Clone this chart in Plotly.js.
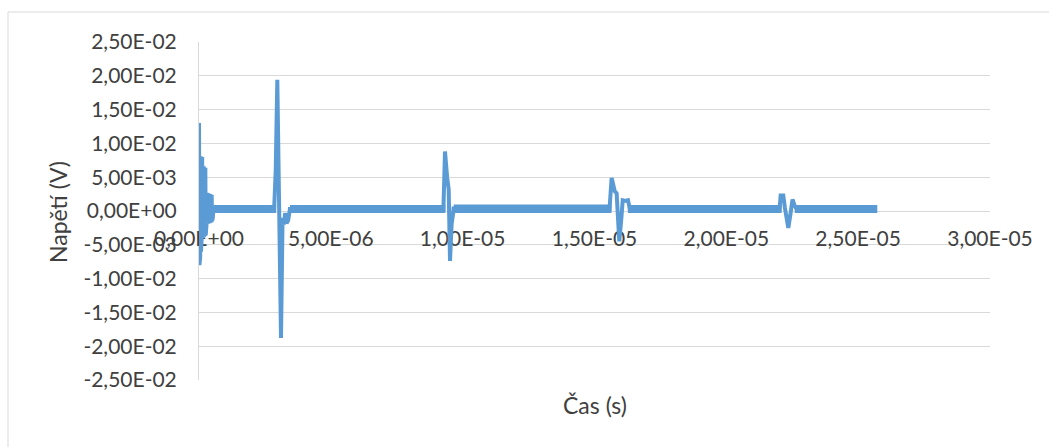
<!DOCTYPE html>
<html>
<head>
<meta charset="utf-8">
<script src="https://cdn.plot.ly/plotly-3.0.1.min.js"></script>
<style>
  html, body { margin: 0; padding: 0; background: #ffffff; }
  #chart { width: 1049px; height: 447px; }
</style>
</head>
<body>
<div id="chart"></div>
<script>
// ---- Data (time in microseconds, voltage in millivolts) ----
// initial ringing at t = 0
const ringStartT = [0, 0.015, 0.03, 0.045, 0.06, 0.075, 0.09, 0.105, 0.12, 0.135, 0.15, 0.165, 0.18, 0.195, 0.21, 0.225, 0.24, 0.255, 0.27, 0.285, 0.30, 0.315, 0.33, 0.345, 0.36, 0.375, 0.39, 0.405, 0.42, 0.435, 0.45, 0.465, 0.48, 0.495, 0.51, 0.525, 0.54];
const ringStartV = [13.0, -8.0, 8.2, -6.8, 8.1, -6.0, 7.9, -3.8, 8.0, -3.7, 7.8, -3.6, 6.6, -3.7, 6.5, -3.5, 6.4, -3.6, 6.3, -2.0, 2.7, -1.8, 2.6, -1.9, 2.6, -1.7, 2.5, -1.8, 2.5, -1.6, 2.4, -1.7, 2.4, -1.5, 2.3, -1.0, 0.3];
// reflection 1 (largest)
const pulse1T = [2.85, 2.91, 2.97, 3.04, 3.11, 3.17, 3.22, 3.27, 3.32, 3.38, 3.45];
const pulse1V = [0.3, 6.0, 19.4, 0.5, -18.8, -1.0, -2.0, -0.3, -1.8, -1.4, 0.3];
// reflection 2
const pulse2T = [9.27, 9.33, 9.41, 9.47, 9.52, 9.58, 9.66];
const pulse2V = [0.3, 8.8, 5.0, 3.2, -7.4, -2.0, 0.3];
// reflection 3
const pulse3T = [15.57, 15.65, 15.70, 15.77, 15.84, 15.94, 16.02, 16.07, 16.17, 16.27, 16.34];
const pulse3V = [0.3, 4.9, 4.2, 2.9, 2.6, -4.5, -1.0, 1.6, 1.5, 1.6, 0.3];
// reflection 4
const pulse4T = [22.02, 22.06, 22.16, 22.22, 22.35, 22.43, 22.51, 22.59, 22.67];
const pulse4V = [0.3, 2.3, 2.3, 0.5, -2.5, -0.5, 1.7, 0.8, 0.3];
// last sample of the record
const endT = [25.65];
const endV = [0.3];

// baseline noise envelope between the pulses (start/end in us, high/low in mV)
const noiseStartUs = [0.54, 3.45, 9.66, 16.34, 22.67];
const noiseEndUs   = [2.85, 9.27, 15.57, 22.02, 25.65];
const noiseHighMv  = [0.6, 0.6, 0.65, 0.6, 0.6];
const noiseLowMv   = [0.0, 0.0, 0.0, 0.0, 0.0];

// axis ticks
const xTickVals = [0, 5e-6, 1e-5, 1.5e-5, 2e-5, 2.5e-5, 3e-5];
const xTickText = ["0,00E+00", "5,00E-06", "1,00E-05", "1,50E-05", "2,00E-05", "2,50E-05", "3,00E-05"];
const yTickVals = [0.025, 0.02, 0.015, 0.01, 0.005, 0, -0.005, -0.01, -0.015, -0.02, -0.025];
const yTickText = ["2,50E-02", "2,00E-02", "1,50E-02", "1,00E-02", "5,00E-03", "0,00E+00", "-5,00E-03", "-1,00E-02", "-1,50E-02", "-2,00E-02", "-2,50E-02"];
const xTitle = "Čas (s)";
const yTitle = "Napětí (V)";

// ---- Build series (unit conversion only) ----
const segT = [ringStartT, pulse1T, pulse2T, pulse3T, pulse4T, endT];
const segV = [ringStartV, pulse1V, pulse2V, pulse3V, pulse4V, endV];
const x = [].concat(...segT).map(t => t * 1e-6);
const y = [].concat(...segV).map(v => v * 1e-3);

const bandX = [], bandY = [];
noiseStartUs.forEach((s, i) => {
  const e = noiseEndUs[i], hi = noiseHighMv[i], lo = noiseLowMv[i];
  bandX.push(s * 1e-6, e * 1e-6, e * 1e-6, s * 1e-6, s * 1e-6, null);
  bandY.push(hi * 1e-3, hi * 1e-3, lo * 1e-3, lo * 1e-3, hi * 1e-3, null);
});

const FONT = "Lato, 'Open Sans', sans-serif";
const TXT = "#404040";
const GRID = "#d9d9d9";
const BLUE = "#5B9BD5";

const plotL = 199, plotR = 990, plotT = 42, plotB = 380;
const W = 1049, H = 447;
const pw = plotR - plotL, ph = plotB - plotT;
const px = v => (v - plotL) / pw;
const py = v => (plotB - v) / ph;

const bandTrace = {
  x: bandX, y: bandY, type: "scatter", mode: "lines",
  fill: "toself", fillcolor: BLUE,
  line: { color: BLUE, width: 4 },
  hoverinfo: "skip"
};
const trace = {
  x: x, y: y, type: "scatter", mode: "lines",
  line: { color: BLUE, width: 4 },
  hoverinfo: "skip"
};

const layout = {
  width: W, height: H,
  margin: { l: plotL, r: W - plotR, t: plotT, b: H - plotB, pad: 0 },
  paper_bgcolor: "#ffffff", plot_bgcolor: "#ffffff",
  showlegend: false,
  font: { family: FONT, color: TXT, size: 21 },
  xaxis: {
    range: [0, 3e-5],
    anchor: "free", position: 0.5,
    layer: "below traces",
    tickmode: "array", tickvals: xTickVals, ticktext: xTickText,
    ticks: "outside", ticklen: 9, tickcolor: "rgba(0,0,0,0)",
    tickfont: { family: FONT, color: TXT, size: 21 },
    showgrid: false, zeroline: false,
    showline: true, linecolor: GRID, linewidth: 1,
    fixedrange: true
  },
  yaxis: {
    range: [-0.025, 0.025],
    layer: "below traces",
    tickmode: "array", tickvals: yTickVals, ticktext: yTickText,
    ticks: "outside", ticklen: 17, tickcolor: "rgba(0,0,0,0)",
    tickfont: { family: FONT, color: TXT, size: 21 },
    showgrid: true, gridcolor: GRID, gridwidth: 1,
    zeroline: false,
    showline: true, linecolor: GRID, linewidth: 1,
    fixedrange: true
  },
  annotations: [
    { text: xTitle, xref: "paper", yref: "paper", x: 0.5, y: py(405),
      xanchor: "center", yanchor: "middle", showarrow: false,
      font: { family: FONT, color: TXT, size: 23 } },
    { text: yTitle, xref: "paper", yref: "paper", x: px(58), y: py(212),
      xanchor: "center", yanchor: "middle", showarrow: false, textangle: -90,
      font: { family: FONT, color: TXT, size: 23 } }
  ],
  shapes: [
    { type: "rect", xref: "paper", yref: "paper",
      x0: px(8), x1: px(1060), y0: py(460), y1: py(12),
      line: { color: GRID, width: 1 }, fillcolor: "rgba(0,0,0,0)", layer: "below" }
  ]
};

Plotly.newPlot("chart", [bandTrace, trace], layout, { staticPlot: true, displayModeBar: false });
</script>
</body>
</html>
